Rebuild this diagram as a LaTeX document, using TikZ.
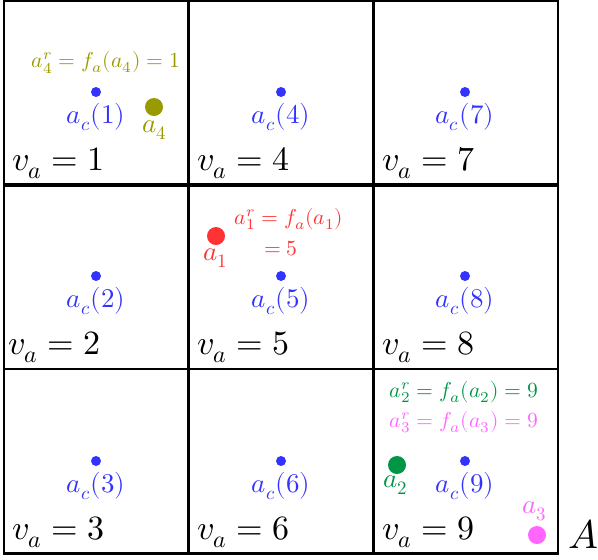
\documentclass[tikz,border=0pt]{standalone}
\usepackage{amsmath}
\usepackage{fontspec}
\usepackage{unicode-math}
\setmathfont{Latin Modern Math}
\definecolor{cblue}{RGB}{51,51,255}
\definecolor{colive}{RGB}{153,153,0}
\definecolor{cred}{RGB}{255,51,51}
\definecolor{cgreen}{RGB}{0,150,70}
\definecolor{cpink}{RGB}{255,102,255}
\begin{document}
\begin{tikzpicture}[x=0.5pt,y=-0.5pt,
  cellbox/.style={draw=black,line width=1.3pt},
  bdot/.style={circle,fill=cblue,inner sep=0pt,minimum size=5pt},
  bigdot/.style={circle,inner sep=0pt,minimum size=9pt},
  blab/.style={text=cblue,font=\fontsize{13.5}{16}\selectfont,inner sep=0pt},
  vlab/.style={anchor=west,font=\fontsize{17}{20}\selectfont,inner sep=0pt},
  small/.style={font=\fontsize{10.8}{15}\selectfont,inner sep=0pt}]
\useasboundingbox (0,0) rectangle (598,559);
% cells
\foreach \i/\x in {0/4,1/188.7,2/373.3}{
  \foreach \j/\y in {0/1,1/184.7,2/369}{
    \draw[cellbox] (\x,\y) rectangle ++(184.7,184.3);
  }
}
% blue centre dots and labels
\foreach \n/\x/\y in {1/96/92,2/96/276,3/96/461,4/281/92,5/281/276,6/281/461,7/465/92,8/465/276,9/465/461}{
  \node[bdot] (c\n) at (\x,\y) {};
  \node[blab] (lc\n) at (\x,\y+25) {$a_c(\n)$};
}
% value labels
\foreach \n/\x/\y in {1/12/163,2/8/347,3/12/532,4/197/163,5/197/347,6/197/532,7/382/163,8/382/347,9/382/532}{
  \node[vlab] (v\n) at (\x,\y) {$v_a=\n$};
}
% a4
\node[bigdot,fill=colive] (a4) at (154,107) {};
\node[small,text=colive,font=\fontsize{13.5}{16}\selectfont] (la4) at (155,130) {$a_4$};
\node[small,text=colive] (fa4) at (106,62) {$a_4^r=f_a(a_4)=1$};
% a1
\node[bigdot,fill=cred] (a1) at (216,236) {};
\node[small,text=cred,font=\fontsize{13.5}{16}\selectfont] (la1) at (216,258) {$a_1$};
\node[small,text=cred] (fa1) at (289,219) {$a_1^r=f_a(a_1)$};
\node[small,text=cred] (fa1b) at (281,249) {$=5$};
% a2
\node[bigdot,fill=cgreen] (a2) at (397,465) {};
\node[small,text=cgreen,font=\fontsize{13.5}{16}\selectfont] (la2) at (396,485) {$a_2$};
\node[small,text=cgreen] (fa2) at (464,392) {$a_2^r=f_a(a_2)=9$};
% a3
\node[bigdot,fill=cpink] (a3) at (537,535) {};
\node[small,text=cpink,font=\fontsize{13.5}{16}\selectfont] (la3) at (535,511) {$a_3$};
\node[small,text=cpink] (fa3) at (464,422) {$a_3^r=f_a(a_3)=9$};
% set label
\node[font=\fontsize{20}{24}\selectfont,inner sep=0pt] (A) at (583,534) {$A$};
\end{tikzpicture}
\end{document}
